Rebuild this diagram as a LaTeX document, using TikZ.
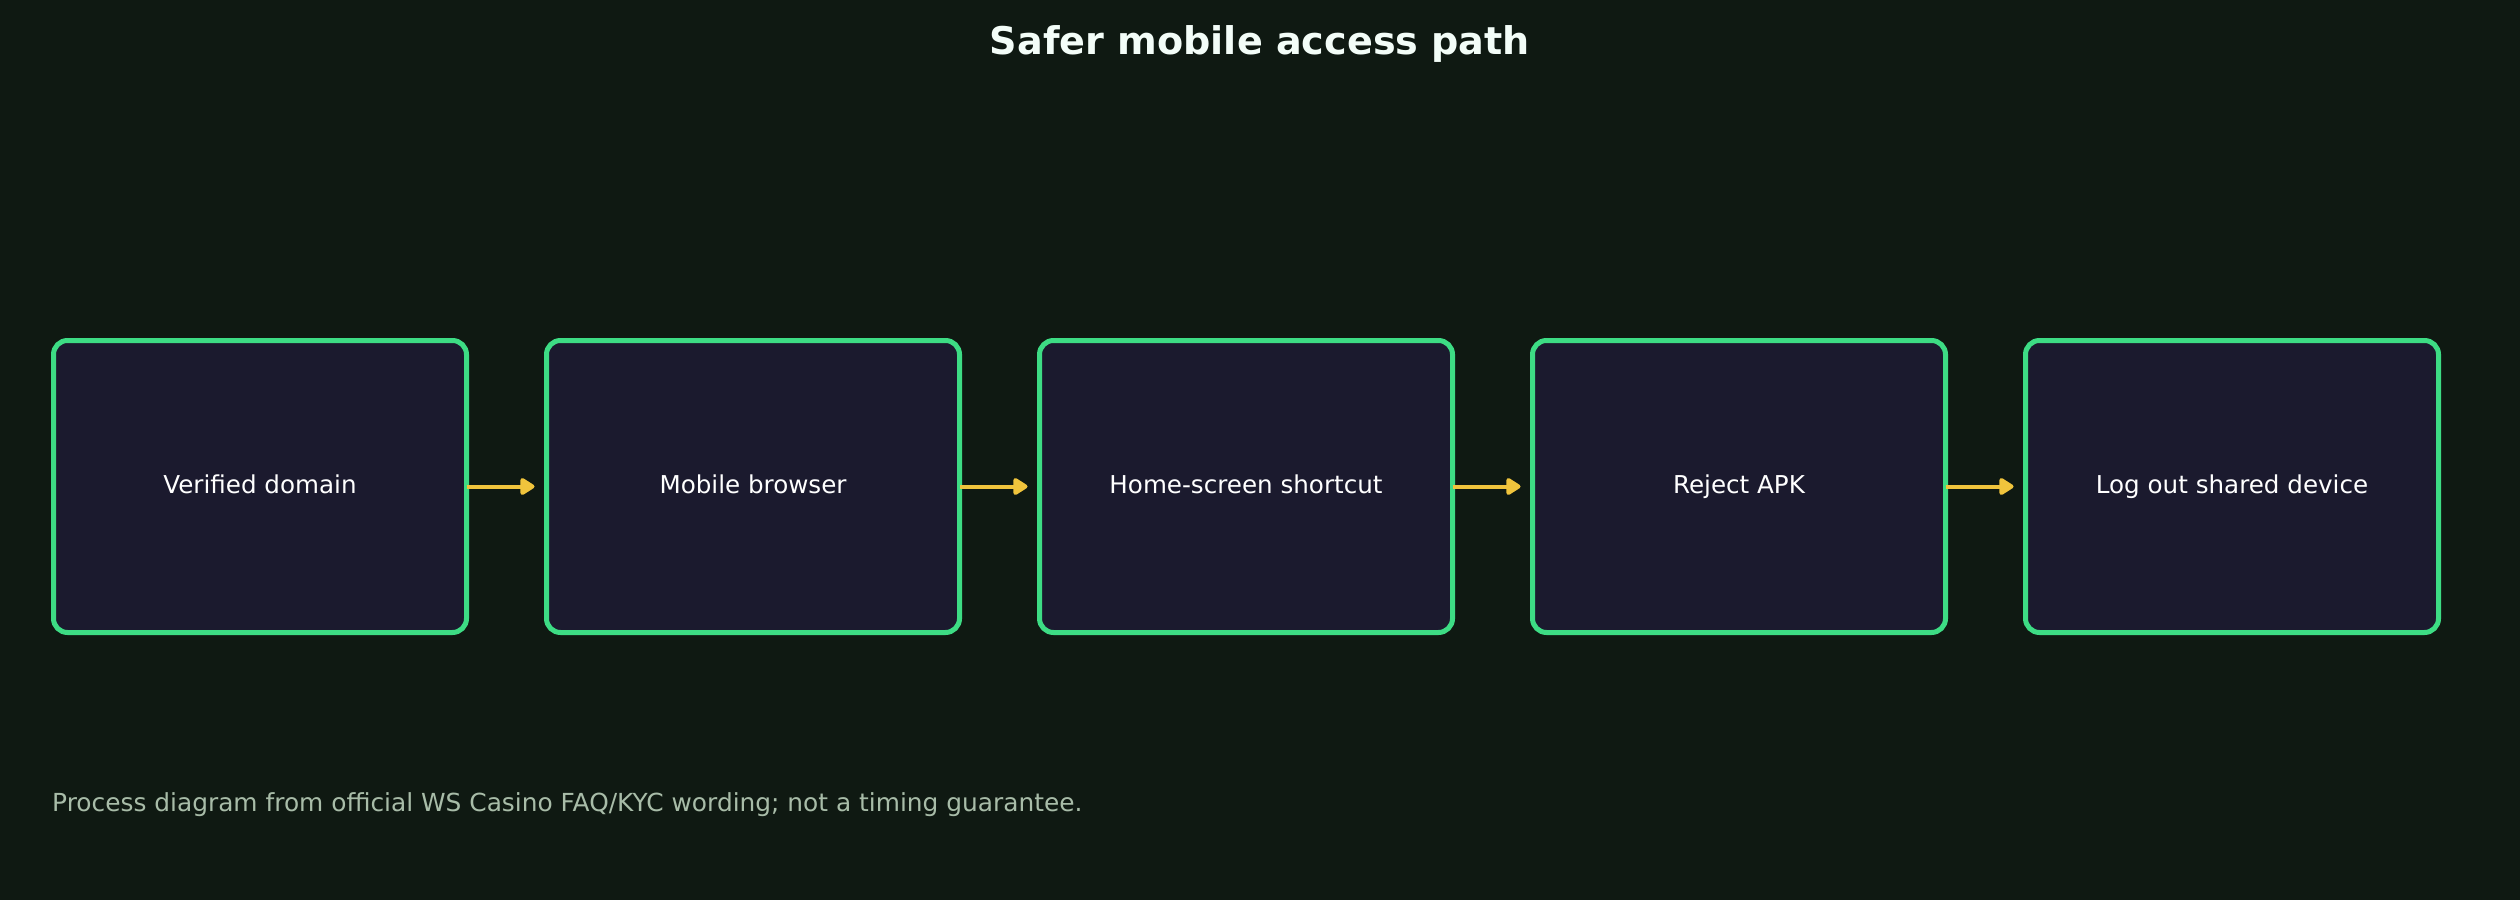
\documentclass[tikz,border=0pt]{standalone}
\usepackage{fontspec}
\setmainfont{DejaVu Sans}
\usetikzlibrary{positioning,arrows.meta}
\definecolor{bgcol}{HTML}{0F1912}
\definecolor{boxfill}{HTML}{1B1A2E}
\definecolor{boxline}{HTML}{3DDC84}
\definecolor{arrcol}{HTML}{F0C43C}
\definecolor{notecol}{HTML}{A8BCA8}
\begin{document}
\begin{tikzpicture}[
        stage/.style = {
            draw=boxline,fill=boxfill,line width=0.05cm,
            rounded corners=0.14cm,outer sep=0pt,
            minimum width=4.13cm,minimum height=2.92cm,
            text height=0.17cm,text depth=0.033cm,
            text=white,font=\fontsize{7}{8.4}\selectfont},
        arr/.style = {-{Triangle[length=0.16cm,width=0.19cm,round]},
            draw=arrcol,line width=0.04cm,shorten >=0.12cm},
        node distance=0.80cm,
]
        \fill[bgcol] (0,0) rectangle (25.2,9);
        \useasboundingbox (0,0) rectangle (25.2,9);
        \node[inner sep=0pt,anchor=base,text=white!94!boxline,
            font=\bfseries\fontsize{10.85}{13}\selectfont] (title) at (12.6,8.45) {Safer mobile access path};
        \node[stage] (A) at (2.6,4.135) {Verified domain};
        \node[stage] (B) [right=of A] {Mobile browser};
        \node[stage] (C) [right=of B] {Home-screen shortcut};
        \node[stage] (D) [right=of C] {Reject APK};
        \node[stage] (E) [right=of D] {Log out shared device};
        \draw [arr] (A) -- (B);
        \draw [arr] (B) -- (C);
        \draw [arr] (C) -- (D);
        \draw [arr] (D) -- (E);
        \node[inner sep=0pt,anchor=base west,text=notecol,
            font=\fontsize{7.07}{8.5}\selectfont] (note) at (0.515,0.883) {Process diagram from official WS Casino FAQ/KYC wording; not a timing guarantee.};
\end{tikzpicture}
\end{document}
